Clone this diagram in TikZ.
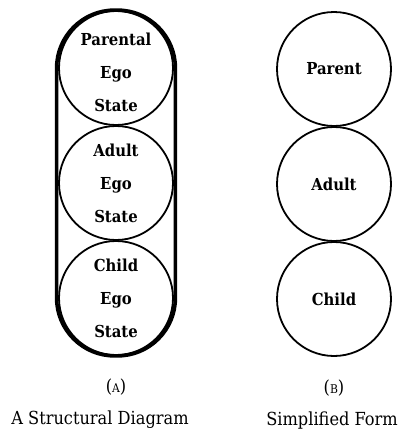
\documentclass[tikz,border=0pt]{standalone}
\usepackage{fontspec}
\setmainfont{DejaVu Serif Condensed}
\usepackage{tikz}
\usetikzlibrary{positioning, fit, shapes.geometric}

\newcommand{\smallcap}[1]{{\fontsize{12}{12}\selectfont #1}}

\begin{document}
\begin{tikzpicture}[x=1pt,y=-1pt,node distance=115pt,on grid,
	ego/.style={circle, draw, line width=1.8pt, minimum size=114pt, inner sep=0pt},
	simple/.style={circle, draw, line width=1.8pt, minimum size=114pt, inner sep=0pt},
	word/.style={font=\fontsize{16.5}{33}\selectfont\bfseries, align=center},
	caption/.style={font=\fontsize{18}{20}\selectfont}]
	
	\useasboundingbox (0,0) rectangle (408,434);
	
	% structural diagram
	\node (pe) [ego, label={[word, yshift=-4pt]center:Parental\\Ego\\State}] at (116,68) {};
	\node (ae) [ego, below of = pe, label={[word]center:Adult\\Ego\\State}] {};
	\node (ce) [ego, below of = ae, label={[word]center:Child\\Ego\\State}] {};
	\node (cap) [draw, line width=3.6pt, rounded corners=58pt, inner xsep=1.5pt, inner ysep=0pt, fit=(pe)(ce)] {};
	
	% simplified form
	\node (ps) [simple, word] at (334,69) {Parent};
	\node (as) [simple, word, below of = ps] {Adult};
	\node (cs) [simple, word, below of = as] {Child};
	
	% captions
	\node (capA) [caption, below=89pt of ce] {(\smallcap{A})};
	\node (titleA) [caption, below=33pt of capA, xshift=-16pt] {A Structural Diagram};
	\node (capB) [caption, below=89pt of cs] {(\smallcap{B})};
	\node (titleB) [caption, below=33pt of capB, xshift=-2pt] {Simplified Form};
	
\end{tikzpicture}
\end{document}
